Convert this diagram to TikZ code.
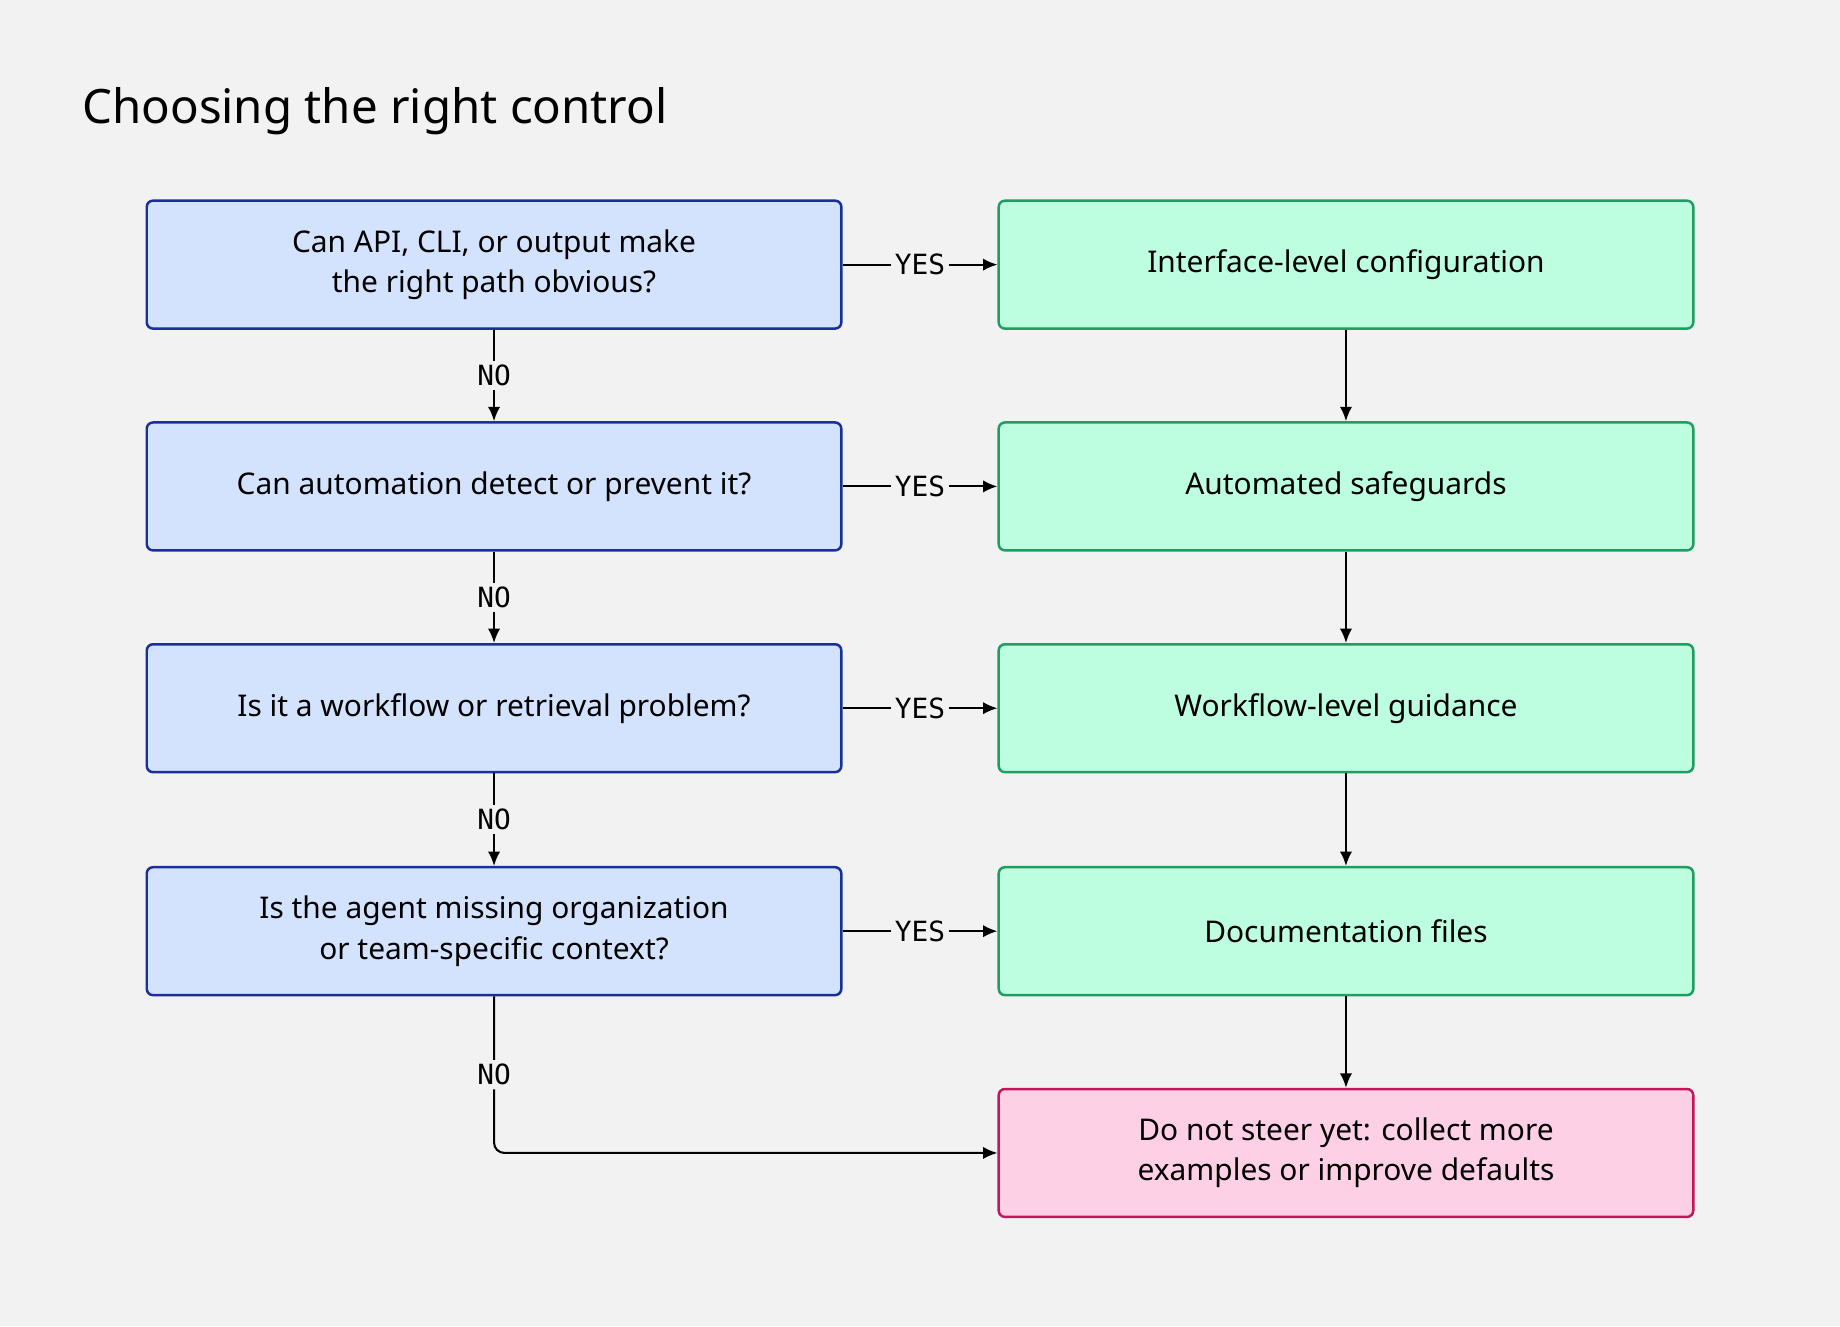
\documentclass[tikz,border=0pt]{standalone}
\usepackage{fontspec}
\setmainfont{Noto Sans}
\newfontfamily\labelfont{DejaVu Sans Mono}
\usetikzlibrary{arrows.meta}
\definecolor{bgcol}{HTML}{F2F2F2}
\definecolor{qfill}{HTML}{D4E3FD}
\definecolor{qline}{HTML}{1A2F9A}
\definecolor{afill}{HTML}{BDFDE0}
\definecolor{aline}{HTML}{1E9E60}
\definecolor{sfill}{HTML}{FDD0E6}
\definecolor{sline}{HTML}{C2185B}
\begin{document}
\begin{tikzpicture}[x=0.02cm,y=-0.02cm,
    box/.style ={rectangle, rounded corners=3pt, line width=1.2pt, minimum width=11.84cm,
      minimum height=2.18cm, align=center, font=\fontsize{14.5}{19.5}\selectfont},
    question/.style ={box, draw=qline, fill=qfill},
    answer/.style ={box, draw=aline, fill=afill},
    stopbox/.style ={box, draw=sline, fill=sfill},
    conn/.style ={line width=1pt, -{Latex[length=7pt,width=6pt]}},
    lbl/.style ={fill=bgcol, inner sep=2pt, font=\labelfont\fontsize{13.5}{16}\selectfont}]
  \useasboundingbox[fill=bgcol] (0,0) rectangle (1568,1130);
  \node[anchor=west, font=\fontsize{23}{28}\selectfont\bfseries] (title) at (64,95) {Choosing the right control};

  \node[question] (q1) at (421,225.5) {Can API, CLI, or output make\\the right path obvious?};
  \node[question] (q2) at (421,414.5) {Can automation detect or prevent it?};
  \node[question] (q3) at (421,603.5) {Is it a workflow or retrieval problem?};
  \node[question] (q4) at (421,793.5) {Is the agent missing organization\\or team-specific context?};

  \node[answer] (a1) at (1147,225.5) {Interface-level configuration};
  \node[answer] (a2) at (1147,414.5) {Automated safeguards};
  \node[answer] (a3) at (1147,603.5) {Workflow-level guidance};
  \node[answer] (a4) at (1147,793.5) {Documentation files};
  \node[stopbox] (stop) at (1147,982.5) {Do not steer yet: collect more\\examples or improve defaults};

  % yes branches
  \draw[conn] (q1) -- node[lbl] {YES} (a1);
  \draw[conn] (q2) -- node[lbl] {YES} (a2);
  \draw[conn] (q3) -- node[lbl] {YES} (a3);
  \draw[conn] (q4) -- node[lbl] {YES} (a4);

  % no branches
  \draw[conn] (q1) -- node[lbl] {NO} (q2);
  \draw[conn] (q2) -- node[lbl] {NO} (q3);
  \draw[conn] (q3) -- node[lbl] {NO} (q4);
  \draw[conn, rounded corners=5pt] (q4.south) |- node[lbl, pos=0.25] {NO} (stop.west);

  \draw[conn] (a1) -- (a2);
  \draw[conn] (a2) -- (a3);
  \draw[conn] (a3) -- (a4);
  \draw[conn] (a4) -- (stop);
\end{tikzpicture}
\end{document}
